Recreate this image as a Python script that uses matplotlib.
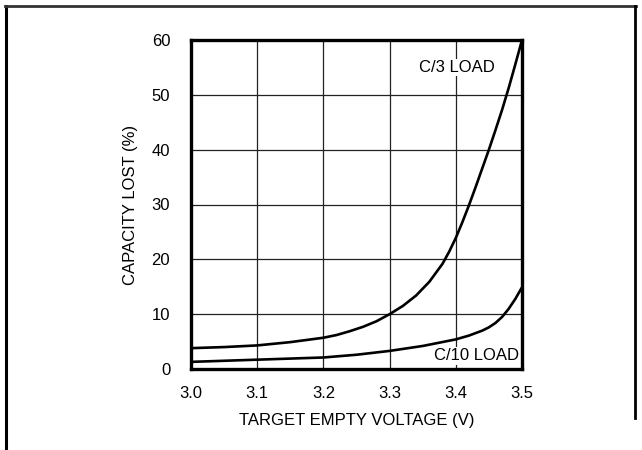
import matplotlib
matplotlib.use("Agg")
import matplotlib.pyplot as plt
from matplotlib.lines import Line2D

plt.rcParams['font.family'] = ['Liberation Sans Narrow', 'Liberation Sans', 'DejaVu Sans']

# values
volt_c3 = [3.00, 3.05, 3.10, 3.15, 3.20, 3.22, 3.24, 3.26, 3.28, 3.30, 3.32,
           3.34, 3.36, 3.38, 3.39, 3.40, 3.41, 3.42, 3.43, 3.44, 3.45, 3.46,
           3.47, 3.48, 3.49, 3.50]
lost_c3 = [3.8, 4.0, 4.3, 4.9, 5.7, 6.2, 6.9, 7.7, 8.7, 10.0, 11.5,
           13.4, 15.9, 19.2, 21.4, 23.9, 26.8, 29.9, 33.2, 36.6, 40.0, 43.6,
           47.3, 51.3, 55.6, 60.0]

volt_c10 = [3.00, 3.05, 3.10, 3.15, 3.20, 3.25, 3.30, 3.35, 3.40, 3.42,
            3.44, 3.45, 3.46, 3.47, 3.48, 3.49, 3.50]
lost_c10 = [1.3, 1.5, 1.7, 1.9, 2.1, 2.6, 3.3, 4.2, 5.4, 6.1,
            7.0, 7.6, 8.4, 9.5, 11.0, 12.8, 14.9]

xticks = [3.0, 3.1, 3.2, 3.3, 3.4, 3.5]
xticklabels = ['3.0', '3.1', '3.2', '3.3', '3.4', '3.5']
yticks = [0, 10, 20, 30, 40, 50, 60]

fig = plt.figure(figsize=(6.42, 4.5), dpi=100)
ax = fig.add_axes([191 / 642, 1 - 369 / 450, 331 / 642, 329 / 450])

ax.plot(volt_c3, lost_c3, color='black', lw=1.9, solid_capstyle='butt', zorder=4)
ax.plot(volt_c10, lost_c10, color='black', lw=1.9, solid_capstyle='butt', zorder=4)

ax.set_xlim(3.0, 3.5)
ax.set_ylim(0, 60)
ax.set_xticks(xticks)
ax.set_xticklabels(xticklabels)
ax.set_yticks(yticks)
ax.tick_params(length=0, labelsize=12, pad=12)
ax.tick_params(axis='y', pad=15)
ax.grid(True, color='#222222', lw=0.9)
ax.set_axisbelow(True)
for s in ax.spines.values():
    s.set_linewidth(2.4)
    s.set_zorder(5)

ax.set_xlabel('TARGET EMPTY VOLTAGE (V)', fontsize=12, labelpad=9)
ax.set_ylabel('CAPACITY LOST (%)', fontsize=12, labelpad=10)

ax.text(3.402, 55.0, 'C/3 LOAD', fontsize=12, ha='center', va='center',
        bbox=dict(facecolor='white', edgecolor='none', pad=1), zorder=3)
ax.text(3.432, 2.4, 'C/10 LOAD', fontsize=12, ha='center', va='center',
        bbox=dict(facecolor='white', edgecolor='none', pad=1), zorder=3)

# outer frame of the figure
fig.add_artist(Line2D([6 / 642, 6 / 642], [0, 1 - 6 / 450], color='black', lw=2.2,
                      transform=fig.transFigure))
fig.add_artist(Line2D([5 / 642, 636 / 642], [1 - 6 / 450, 1 - 6 / 450], color='#333333',
                      lw=2.0, transform=fig.transFigure))
fig.add_artist(Line2D([635 / 642, 635 / 642], [1 - 6 / 450, 1 - 418 / 450], color='black',
                      lw=2.0, transform=fig.transFigure))

fig.savefig('out.png', dpi=100)
